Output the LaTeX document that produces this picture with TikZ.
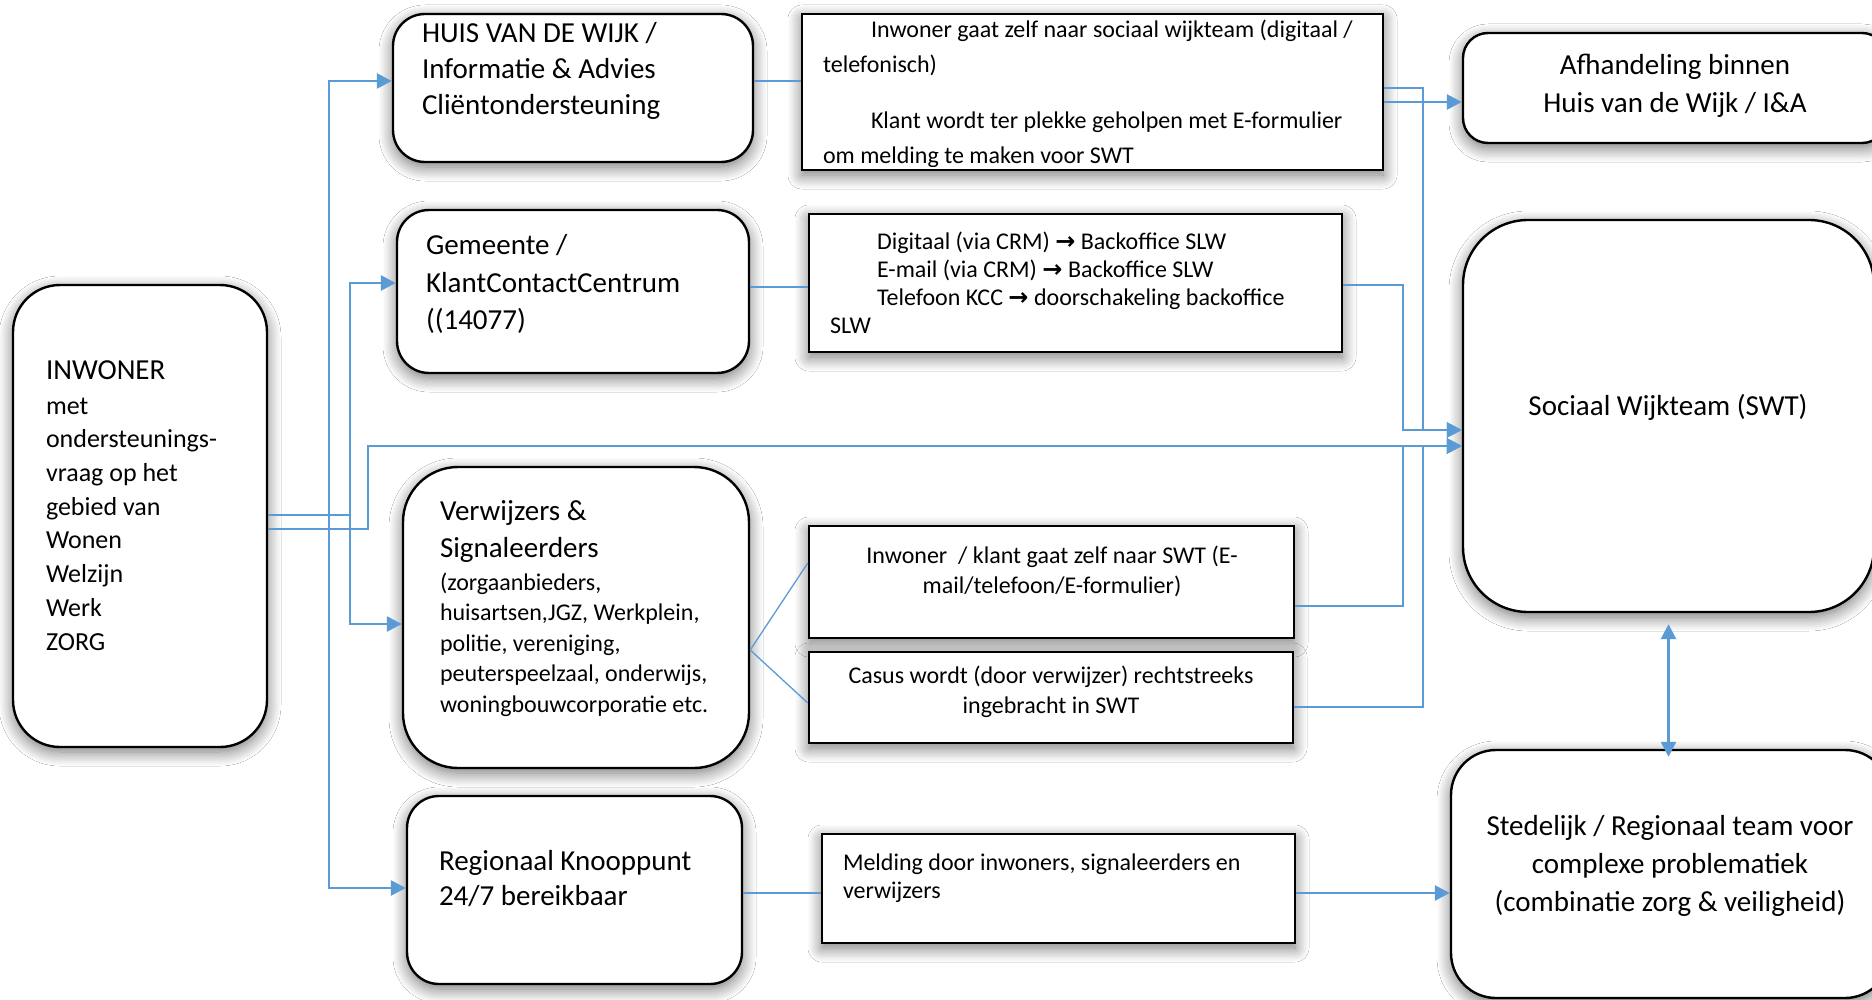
\documentclass[tikz,border=0pt]{standalone}
\usepackage{fontspec}
\setmainfont{Carlito}
\newfontfamily\arrowfont{DejaVu Sans}
\usetikzlibrary{arrows.meta,shadows.blur}
\definecolor{wblue}{RGB}{91,155,213}
\newcommand{\fsz}[2]{\fontsize{#1}{#2}\selectfont}
\begin{document}
\begin{tikzpicture}[x=1pt,y=-1pt,
  softshadow/.style={blur shadow={shadow xshift=0pt,shadow yshift=-5pt,shadow blur radius=14pt,shadow opacity=55,shadow blur steps=12}},
  rbox/.style={draw=black,line width=2.4pt,fill=white,rounded corners=#1,softshadow,inner sep=0pt},
  sbox/.style={draw=black,line width=2.4pt,fill=white,softshadow,inner sep=0pt},
  link/.style={draw=wblue,line width=2.6pt},
  arr/.style={link,-{Triangle[length=15pt,width=15pt]}},
  dblarr/.style={link,{Triangle[length=15pt,width=15pt]}-{Triangle[length=15pt,width=15pt]}},
  thinlink/.style={draw=wblue,line width=1.3pt},
  txt/.style={inner sep=0pt,outer sep=0pt,align=left,anchor=base west},
  ctxt/.style={inner sep=0pt,outer sep=0pt,align=center,anchor=base}]
\useasboundingbox (0,0) rectangle (1872,1000);
\fill[white] (0,0) rectangle (1872,1000);

% ---------- boxes ----------
\node[rbox=47pt,minimum width=254pt,minimum height=462pt] (inw) at (140,516) {};
\node[rbox=32pt,minimum width=360pt,minimum height=148pt] (huis) at (573,88) {};
\node[sbox,minimum width=581pt,minimum height=156pt] (b1) at (1092.5,92) {};
\node[rbox=25pt,minimum width=424pt,minimum height=110pt] (afh) at (1675,88) {};
\node[rbox=32pt,minimum width=352pt,minimum height=163pt] (gem) at (573,291.5) {};
\node[sbox,minimum width=533pt,minimum height=138pt] (b2) at (1075.5,283) {};
\node[rbox=65pt,minimum width=411pt,minimum height=392pt] (swt) at (1668.5,416) {};
\node[rbox=55pt,minimum width=346pt,minimum height=301pt] (ver) at (576,617.5) {};
\node[sbox,minimum width=485pt,minimum height=112pt] (b3) at (1051.5,582) {};
\node[sbox,minimum width=484pt,minimum height=91pt] (b4) at (1051,697.5) {};
\node[rbox=32pt,minimum width=335pt,minimum height=188pt] (reg) at (574.5,890) {};
\node[sbox,minimum width=473pt,minimum height=109pt] (b5) at (1058.5,888.5) {};
\node[rbox=45pt,minimum width=439pt,minimum height=248pt] (sted) at (1670.5,874) {};

% ---------- texts (multi-line nodes are placed by the baseline of their last line) ----------
\node[txt,font=\fsz{29}{36}] (tinw1) at (46,379) {INWONER};
\node[txt,font=\fsz{26}{33.7}] (tinw2) at (46,650) {met\\ondersteunings-\\vraag op het\\gebied van\\Wonen\\Welzijn\\Werk\\ZORG};
\node[txt,font=\fsz{29}{36}] (thuis) at (422,115) {HUIS VAN DE WIJK /\\Informatie \& Advies\\Cliëntondersteuning};
\begin{scope}
\clip (b1.north west) rectangle ([yshift=5pt]b1.south east);
\node[txt,font=\fsz{24}{35}] (tb1) at (823,164) {\hspace*{48pt}Inwoner gaat zelf naar sociaal wijkteam (digitaal /\\telefonisch)\\[21pt]\hspace*{48pt}Klant wordt ter plekke geholpen met E-formulier\\om melding te maken voor SWT};
\end{scope}
\node[ctxt,font=\fsz{29}{38}] (tafh) at (1675,113) {Afhandeling binnen\\Huis van de Wijk / I\&A};
\node[txt,font=\fsz{29}{37.5}] (tgem) at (426,330) {Gemeente /\\KlantContactCentrum\\((14077)};
\node[txt,font=\fsz{24}{28}] (tb2) at (830,334) {\hspace*{47pt}Digitaal (via CRM) {\arrowfont\bfseries →} Backoffice SLW\\\hspace*{47pt}E-mail (via CRM) {\arrowfont\bfseries →} Backoffice SLW\\\hspace*{47pt}Telefoon KCC {\arrowfont\bfseries →} doorschakeling backoffice\\SLW};
\node[ctxt,font=\fsz{29}{36}] (tswt) at (1668,415) {Sociaal Wijkteam (SWT)};
\node[txt,font=\fsz{29}{37}] (tver1) at (440,557) {Verwijzers \&\\Signaleerders};
\node[txt,font=\fsz{24}{30.5}] (tver2) at (440,712) {(zorgaanbieders,\\huisartsen,JGZ, Werkplein,\\politie, vereniging,\\peuterspeelzaal, onderwijs,\\woningbouwcorporatie etc.};
\node[ctxt,font=\fsz{24}{30}] (tb3) at (1052,593) {Inwoner\ \ / klant gaat zelf naar SWT (E-\\mail/telefoon/E-formulier)};
\node[ctxt,font=\fsz{24}{30}] (tb4) at (1051,713) {Casus wordt (door verwijzer) rechtstreeks\\ingebracht in SWT};
\node[txt,font=\fsz{29}{35}] (treg) at (439,905) {Regionaal Knooppunt\\24/7 bereikbaar};
\node[txt,font=\fsz{24}{28}] (tb5) at (843,898) {Melding door inwoners, signaleerders en\\verwijzers};
\node[ctxt,font=\fsz{29}{38}] (tsted) at (1670,911) {Stedelijk / Regionaal team voor\\complexe problematiek\\(combinatie zorg \& veiligheid)};

% ---------- junction coordinates ----------
\coordinate (j1) at (329,515);
\coordinate (j2) at (350,515);
\coordinate (j3) at (368,446);
\coordinate (k1) at (1423,430);
\coordinate (k2) at (1403,430);
\coordinate (k3) at (1403,446);
\coordinate (k4) at (1423,446);

% ---------- connectors from INWONER ----------
\draw[link] (inw.east |- j2) -- (j2);
\draw[arr] (j1) |- (huis.west |- 0,81);
\draw[arr] (j1) |- (reg.west |- 0,888);
\draw[arr] (j2) |- (gem.west |- 0,283);
\draw[arr] (j2) |- (ver.west |- 0,624);
\draw[arr] (inw.east |- 0,529) -| (j3) -- (swt.west |- j3);

% ---------- thin links ----------
\draw[thinlink] (huis.east |- 0,81) -- (b1.west |- 0,81);
\draw[thinlink] (gem.east |- 0,287) -- (b2.west |- 0,287);
\draw[thinlink] (ver.east |- 0,650) -- (b3.west |- 0,563);
\draw[thinlink] (ver.east |- 0,650) -- (b4.west |- 0,703);
\draw[thinlink] (reg.east |- 0,893) -- (b5.west |- 0,893);

% ---------- connectors to the right ----------
\draw[arr] (b1.east |- 0,88) -| (k1) -- (swt.west |- k1);
\draw[arr] (b1.east |- 0,102) -- (afh.west |- 0,102);
\draw[arr] (b2.east |- 0,285) -| (k2) -- (swt.west |- k2);
\draw[arr] (b3.east |- 0,606) -| (k3) -- (swt.west |- k3);
\draw[arr] (b4.east |- 0,707) -| (k4) -- (swt.west |- k4);
\draw[arr] (b5.east |- 0,893) -- (sted.west |- 0,893);
\draw[dblarr] ([yshift=-11pt]swt.south) -- ([yshift=-8pt]sted.north -| swt.south);
\end{tikzpicture}
\end{document}
